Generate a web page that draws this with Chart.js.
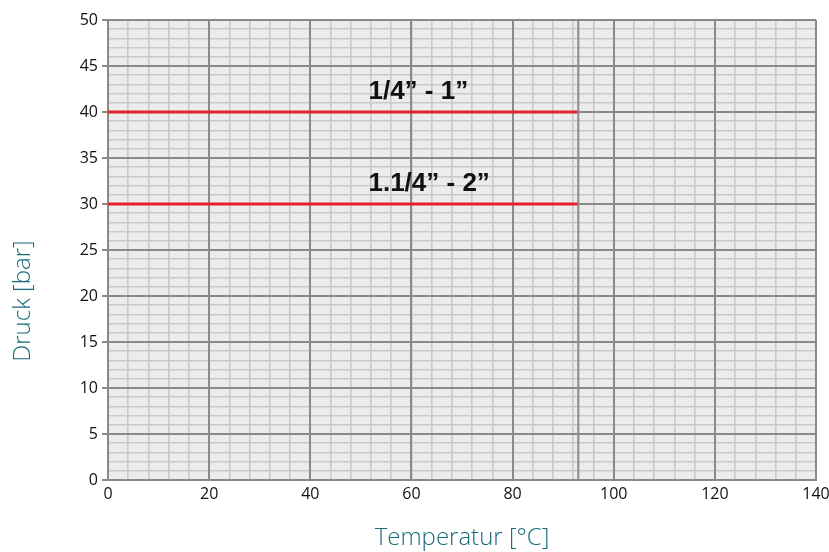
<!DOCTYPE html>
<html lang="de">

<head>
    <meta charset="UTF-8">
    <title>Druck / Temperatur</title>
    <script src="https://cdn.jsdelivr.net/npm/chart.js"></script>
    <style>
        html, body { margin: 0; padding: 0; background: #ffffff; }
        .graph-container { width: 829px; height: 552px; }
    </style>
</head>

<body>
    <div class="graph-container">
        <canvas id="druck_temp"></canvas>
    </div>
    <script>
        // Values
        const tempRange = [0, 93];
        const pressureSmall = [40, 40];      // 1/4" - 1"
        const pressureLarge = [30, 30];      // 1.1/4" - 2"
        const limitTemp = [93, 93];
        const limitPressure = [0, 50];

        const seriesLabels = ['1/4” - 1”', '1.1/4” - 2”'];
        const labelTemp = [51.5, 51.5];
        const labelPressure = [42.2, 32.2];

        const xMax = 140, xMinorStep = 4, xMajorStep = 20;
        const yMax = 50, yMinorStep = 1, yMajorStep = 5;

        const xTitle = 'Temperatur [°C]';
        const yTitle = 'Druck [bar]';

        const minorColor = '#c9c9c9';
        const majorColor = '#8a8a8a';
        const redColor = '#e3202b';
        const titleColor = '#186a7b';

        const chartDecor = {
            id: 'chartDecor',
            beforeDraw(chart) {
                const { ctx, chartArea: a } = chart;
                ctx.save();
                ctx.fillStyle = '#ececec';
                ctx.fillRect(a.left, a.top, a.right - a.left, a.bottom - a.top);
                ctx.restore();
            },
            afterDatasetsDraw(chart) {
                const { ctx, scales } = chart;
                ctx.save();
                ctx.fillStyle = '#111111';
                ctx.font = 'bold 26px "Liberation Sans", Arial, sans-serif';
                ctx.textAlign = 'left';
                ctx.textBaseline = 'middle';
                seriesLabels.forEach((txt, i) => {
                    ctx.fillText(txt, scales.x.getPixelForValue(labelTemp[i]), scales.y.getPixelForValue(labelPressure[i]));
                });
                ctx.restore();
            },
            afterDraw(chart) {
                const { ctx, chartArea: a } = chart;
                ctx.save();
                ctx.fillStyle = titleColor;
                ctx.font = '300 24px "Open Sans", sans-serif';
                ctx.textAlign = 'center';
                ctx.textBaseline = 'middle';
                ctx.fillText(xTitle, (a.left + a.right) / 2, 538);
                ctx.translate(23, 301);
                ctx.rotate(-Math.PI / 2);
                ctx.fillText(yTitle, 0, 0);
                ctx.restore();
            }
        };

        // minor grid lives on hidden helper axes, drawn under the major grid
        const minorAxis = (max, step, size) => ({
            type: 'linear',
            min: 0,
            max: max,
            afterFit: (scale) => { scale[size] = 0; },
            border: { display: false },
            grid: { z: -2, drawTicks: false, color: minorColor, lineWidth: 1.6 },
            ticks: { display: false, stepSize: step, autoSkip: false }
        });

        const ctx = document.getElementById('druck_temp').getContext('2d');
        const chart = new Chart(ctx, {
            type: 'line',
            data: {
                datasets: [
                    {
                        label: 'limit',
                        data: limitTemp.map((t, i) => ({ x: t, y: limitPressure[i] })),
                        borderColor: majorColor,
                        borderWidth: 2,
                        pointRadius: 0,
                        fill: false
                    },
                    {
                        label: seriesLabels[0],
                        data: tempRange.map((t, i) => ({ x: t, y: pressureSmall[i] })),
                        borderColor: redColor,
                        borderWidth: 3,
                        pointRadius: 0,
                        fill: false
                    },
                    {
                        label: seriesLabels[1],
                        data: tempRange.map((t, i) => ({ x: t, y: pressureLarge[i] })),
                        borderColor: redColor,
                        borderWidth: 3,
                        pointRadius: 0,
                        fill: false
                    }
                ]
            },
            options: {
                responsive: true,
                maintainAspectRatio: false,
                animation: false,
                layout: { padding: { top: 20, right: 0, left: 0, bottom: 0 } },
                plugins: {
                    legend: { display: false },
                    tooltip: { enabled: false }
                },
                scales: {
                    x: {
                        type: 'linear',
                        position: 'bottom',
                        min: 0,
                        max: xMax,
                        afterFit: (scale) => {
                            scale.height = 72;
                            scale.paddingRight = 13;
                            scale.paddingLeft = 0;
                        },
                        border: { display: true, color: majorColor, width: 2 },
                        grid: { z: -1, drawTicks: false, color: majorColor, lineWidth: 2 },
                        ticks: {
                            stepSize: xMajorStep,
                            maxRotation: 0,
                            padding: 5,
                            color: '#111111',
                            font: { family: '"Open Sans", sans-serif', size: 16 }
                        }
                    },
                    y: {
                        type: 'linear',
                        position: 'left',
                        min: 0,
                        max: yMax,
                        afterFit: (scale) => { scale.width = 108; },
                        border: { display: true, color: majorColor, width: 2 },
                        grid: { z: -1, tickLength: 6, color: majorColor, lineWidth: 2 },
                        ticks: {
                            stepSize: yMajorStep,
                            padding: 4,
                            color: '#111111',
                            font: { family: '"Open Sans", sans-serif', size: 16 }
                        }
                    },
                    xMinor: Object.assign(minorAxis(xMax, xMinorStep, 'height'), { position: 'bottom', axis: 'x' }),
                    yMinor: Object.assign(minorAxis(yMax, yMinorStep, 'width'), { position: 'left', axis: 'y' })
                }
            },
            plugins: [chartDecor]
        });
    </script>
</body>

</html>
